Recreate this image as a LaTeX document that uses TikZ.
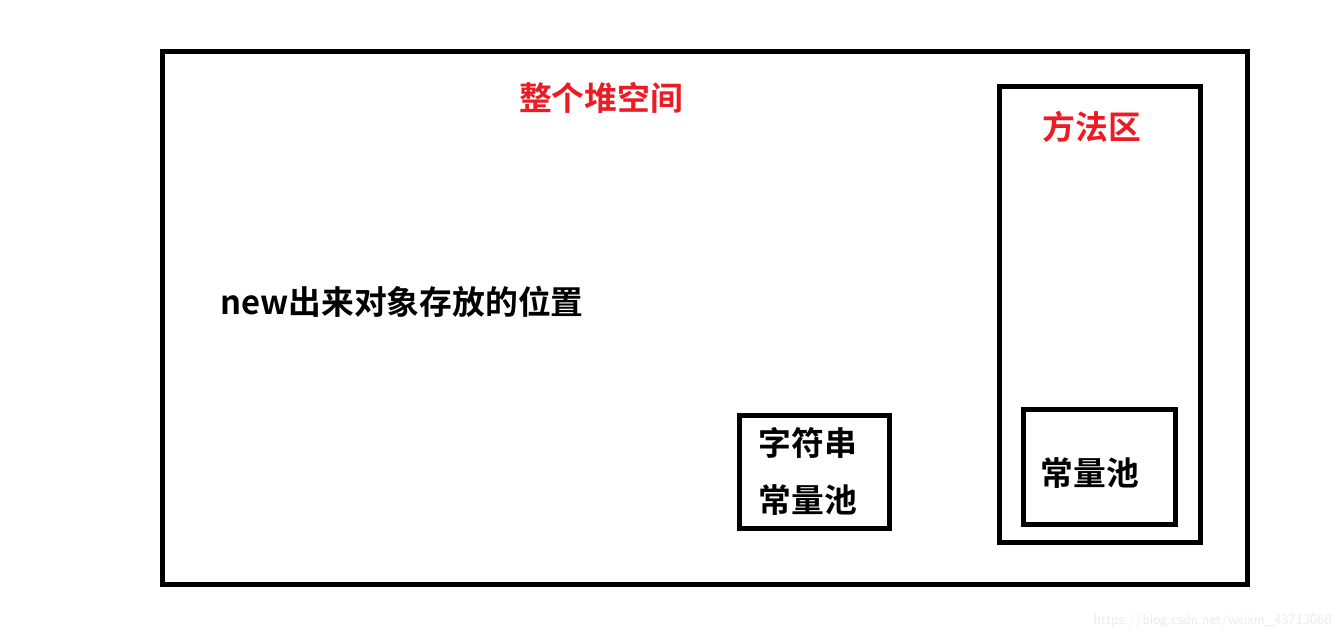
\documentclass[tikz,border=0pt]{standalone}
\usepackage{fontspec}
\newfontfamily\cjk{Noto Sans CJK SC}[BoldFont={Noto Sans CJK SC Bold}]
\definecolor{paintred}{RGB}{237,28,36}
\tikzset{
  box/.style={draw=black, line width=3.75pt},
  lbl/.style={font=\cjk\bfseries\fontsize{24.6}{24.6}\selectfont, inner sep=0pt},
  redlbl/.style={lbl, text=paintred},
}
\begin{document}
\begin{tikzpicture}[x=0.75pt,y=-0.75pt]
\useasboundingbox[fill=white] (0,0) rectangle (1342,640);
% outer heap
\draw[box] (162.5,51.5) rectangle (1247.5,584.5);
\node[redlbl] (heap) at (601,98) {整个堆空间};
\node[lbl, anchor=west] (newobj) at (220,302) {new出来对象存放的位置};
% string constant pool in heap
\draw[box] (739,415.5) rectangle (889.5,528);
\node[lbl] (str) at (808,443) {字符串};
\node[lbl] (pool1) at (808,500) {常量池};
% method area
\draw[box] (999.5,86.5) rectangle (1200.5,542.5);
\node[redlbl] (method) at (1092,127) {方法区};
\draw[box] (1023,409.5) rectangle (1175.5,524.5);
\node[lbl] (pool2) at (1090,473) {常量池};
% watermark
\node[font=\sffamily\fontsize{11}{11}\selectfont, text=black!8, anchor=east, inner sep=0pt] (wm) at (1332,621) {https://blog.csdn.net/weixin\_43713068};
\end{tikzpicture}
\end{document}
